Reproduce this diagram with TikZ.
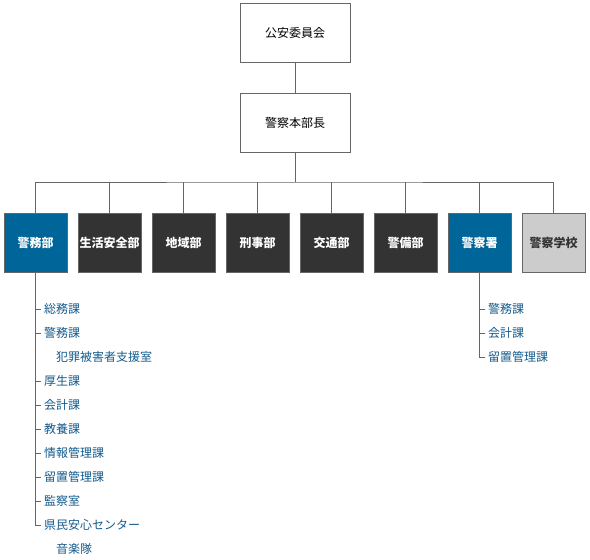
\documentclass[tikz,border=0pt]{standalone}
\usepackage{fontspec}
\newfontfamily\jp{Noto Sans CJK JP}
\definecolor{blu}{RGB}{0,102,153}
\definecolor{dark}{RGB}{51,51,51}
\definecolor{lgray}{RGB}{204,204,204}
\definecolor{edge}{RGB}{102,102,102}
\definecolor{listc}{RGB}{20,90,140}
\begin{document}
\begin{tikzpicture}[x=1pt,y=-1pt,
  topbox/.style={draw=edge,line width=1pt,fill=white,minimum width=110pt,minimum height=59pt,inner sep=0pt,font=\jp\fontsize{12}{14}\selectfont,text=black},
  dept/.style={draw=edge,line width=1pt,minimum width=63pt,minimum height=59pt,inner sep=0pt,font=\jp\bfseries\fontsize{12}{14}\selectfont,text=white},
  bluebox/.style={dept,fill=blu},
  darkbox/.style={dept,fill=dark},
  graybox/.style={dept,fill=lgray,text=dark},
  item/.style={anchor=west,inner sep=0pt,font=\jp\fontsize{12}{14}\selectfont,text=listc},
  conn/.style={draw=edge,line width=1pt}]
\useasboundingbox (0,0) rectangle (590,560);
\node[topbox] (koan) at (295,32.5) {公安委員会};
\node[topbox] (honbu) at (295,122.5) {警察本部長};
\coordinate (bar) at (295,182);
\node[bluebox] (d1) at (35.5,242.5) {警務部};
\node[darkbox] (d2) at (109.5,242.5) {生活安全部};
\node[darkbox] (d3) at (183.5,242.5) {地域部};
\node[darkbox] (d4) at (257.5,242.5) {刑事部};
\node[darkbox] (d5) at (331.5,242.5) {交通部};
\node[darkbox] (d6) at (405.5,242.5) {警備部};
\node[bluebox] (d7) at (479.5,242.5) {警察署};
\node[graybox] (d8) at (553.5,242.5) {警察学校};
\draw[conn] (koan.south) -- (honbu.north);
\draw[conn] (honbu.south) -- (bar);
\draw[conn] (d1.north) |- (bar) -| (d8.north);
\foreach \n in {d2,d3,d4,d5,d6,d7}{\draw[conn] (\n.north) -- (\n.north |- bar);}
% left list
\node[item] (a1) at (44,309) {総務課};
\node[item] (a2) at (44,333) {警務課};
\node[item] (a3) at (56,357) {犯罪被害者支援室};
\node[item] (a4) at (44,381) {厚生課};
\node[item] (a5) at (44,405) {会計課};
\node[item] (a6) at (44,429) {教養課};
\node[item] (a7) at (44,453) {情報管理課};
\node[item] (a8) at (44,477) {留置管理課};
\node[item] (a9) at (44,501) {監察室};
\node[item] (a10) at (44,525) {県民安心センター};
\node[item] (a11) at (56,549) {音楽隊};
\draw[conn] (d1.south) |- ([xshift=-3pt]a10.west);
\foreach \n in {a1,a2,a4,a5,a6,a7,a8,a9}{\draw[conn] ([xshift=-3pt]\n.west) -- ([xshift=-8pt]\n.west);}
% right list
\node[item] (b1) at (488,309) {警務課};
\node[item] (b2) at (488,333) {会計課};
\node[item] (b3) at (488,357) {留置管理課};
\draw[conn] (d7.south) |- ([xshift=-3pt]b3.west);
\foreach \n in {b1,b2}{\draw[conn] ([xshift=-3pt]\n.west) -- ([xshift=-8pt]\n.west);}
\end{tikzpicture}
\end{document}
